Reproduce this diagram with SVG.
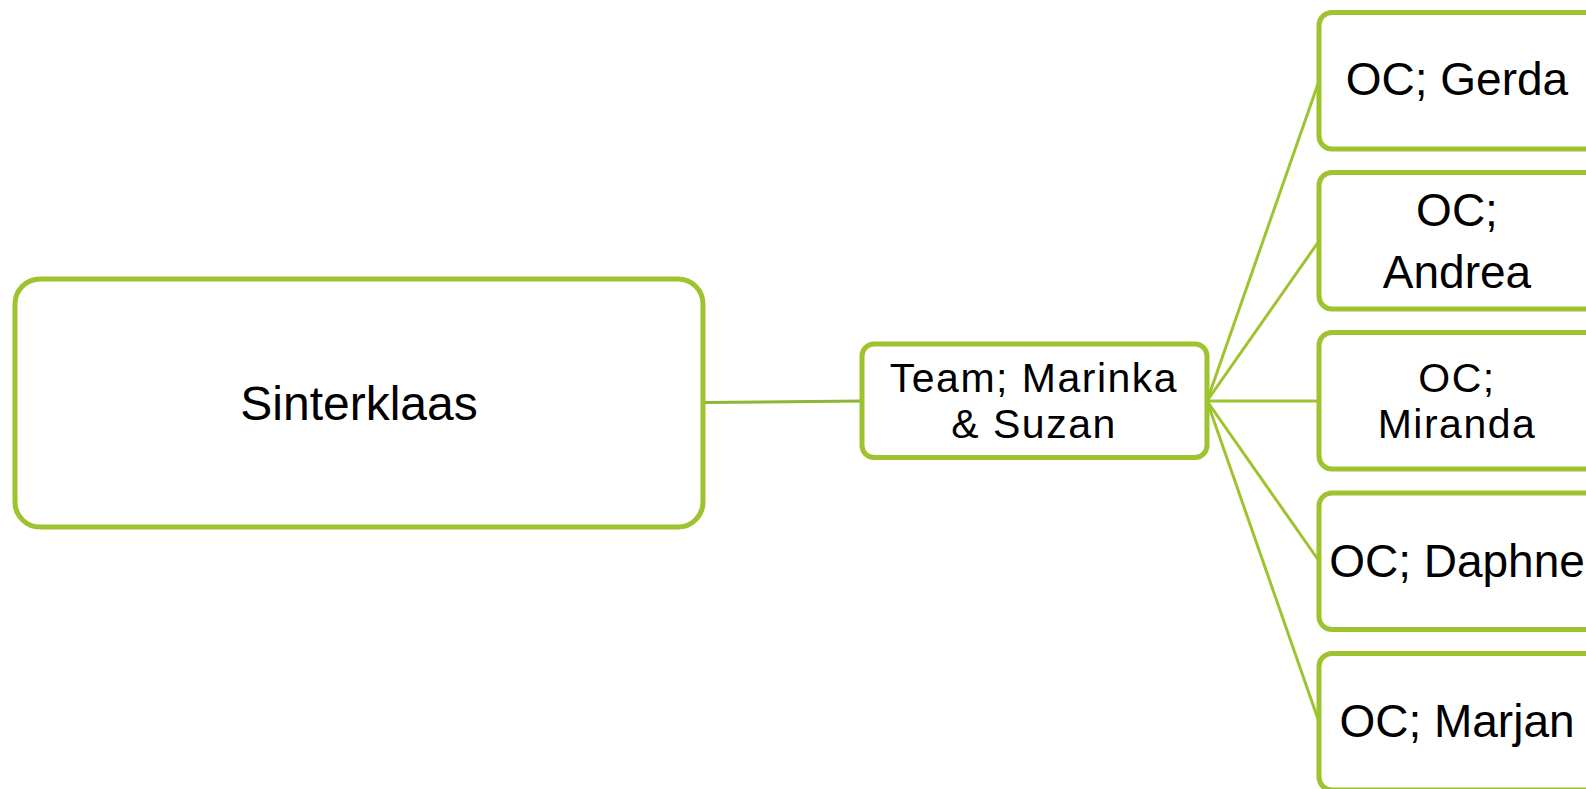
<svg xmlns="http://www.w3.org/2000/svg" width="1586" height="789" viewBox="0 0 1586 789">
<style>
.box{fill:#fff;stroke:#9dc32f;stroke-width:5}
.conn{stroke:#9dc32f;stroke-width:3;fill:none}
.t{font-family:"Liberation Sans",Arial,sans-serif;fill:#000;text-anchor:middle}
.two{font-size:41px;letter-spacing:1.5px}
</style>
<rect width="1586" height="789" fill="#fff"/>
<g id="connectors">
<line class="conn" x1="703" y1="402.5" x2="862" y2="401" style="stroke:#8fb43a"/>
<line class="conn" x1="1207" y1="401" x2="1319" y2="81"/>
<line class="conn" x1="1207" y1="401" x2="1319" y2="241"/>
<line class="conn" x1="1207" y1="401" x2="1319" y2="401"/>
<line class="conn" x1="1207" y1="401" x2="1319" y2="561"/>
<line class="conn" x1="1207" y1="401" x2="1319" y2="722"/>
</g>
<g id="root">
<rect class="box" x="15" y="279" width="688" height="248" rx="25"/>
<text class="t" x="359" y="420" font-size="48">Sinterklaas</text>
</g>
<g id="team">
<rect class="box" x="862" y="344" width="345" height="113.5" rx="12"/>
<text class="t two" x="1034" y="392">Team; Marinka</text>
<text class="t two" x="1034" y="438">&amp; Suzan</text>
</g>
<g id="gerda">
<rect class="box" x="1319" y="12.5" width="280" height="136.5" rx="13"/>
<text class="t" x="1457" y="95" font-size="46">OC; Gerda</text>
</g>
<g id="andrea">
<rect class="box" x="1319" y="172.5" width="280" height="136.5" rx="13"/>
<text class="t" x="1457" y="226" font-size="46">OC;</text>
<text class="t" x="1457" y="288" font-size="46">Andrea</text>
</g>
<g id="miranda">
<rect class="box" x="1319" y="332.5" width="280" height="136.5" rx="13"/>
<text class="t two" x="1457" y="392">OC;</text>
<text class="t two" x="1457" y="438">Miranda</text>
</g>
<g id="daphne">
<rect class="box" x="1319" y="493" width="280" height="136.5" rx="13"/>
<text class="t" x="1457" y="577" font-size="46">OC; Daphne</text>
</g>
<g id="marjan">
<rect class="box" x="1319" y="653.5" width="280" height="136.5" rx="13"/>
<text class="t" x="1457" y="737" font-size="46">OC; Marjan</text>
</g>
</svg>
